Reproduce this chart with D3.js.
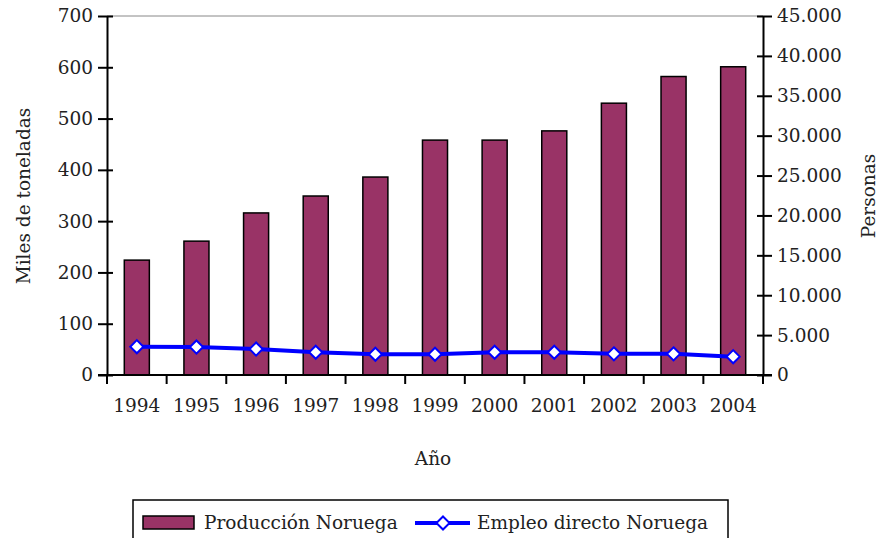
<!DOCTYPE html>
<html>
<head>
<meta charset="utf-8">
<script src="https://cdn.jsdelivr.net/npm/d3@7"></script>
</head>
<body style="margin:0">
<script>
// Chart values
const years = ["1994", "1995", "1996", "1997", "1998", "1999", "2000", "2001", "2002", "2003", "2004"];
const produccion = [224, 261, 316, 349, 386, 458, 458, 476, 530, 582, 601];
const empleo = [3550, 3500, 3250, 2850, 2600, 2600, 2850, 2850, 2650, 2650, 2300];
const leftTicks = [0, 100, 200, 300, 400, 500, 600, 700];
const rightTicks = [0, 5000, 10000, 15000, 20000, 25000, 30000, 35000, 40000, 45000];

const width = 879;
const height = 538;
const plot = { left: 107, right: 763, top: 16, bottom: 375 };
const fontSize = 18.5;

let svg = d3.select("body")
  .append("svg")
  .attr("width", width)
  .attr("height", height);

let x = d3.scaleBand()
  .domain(years)
  .range([plot.left, plot.right]);

let yLeft = d3.scaleLinear()
  .domain([0, 700])
  .range([plot.bottom, plot.top]);

let yRight = d3.scaleLinear()
  .domain([0, 45000])
  .range([plot.bottom, plot.top]);

const barColor = "#993366";
const lineColor = "#0000ff";
const fmt = d3.formatLocale({ decimal: ",", thousands: ".", grouping: [3], currency: ["", ""] }).format(",");

function styleText(sel) {
  sel.style("font-family", d => "\"DejaVu Serif\"")
    .attr("font-size", fontSize)
    .attr("fill", "#222");
}

// top border of plot area
svg.append("line")
  .attr("x1", plot.left).attr("x2", plot.right)
  .attr("y1", plot.top).attr("y2", plot.top)
  .attr("stroke", "#888").attr("stroke-width", 1);

// bars
let barWidth = x.bandwidth() * 0.42;
svg.selectAll("rect.bar")
  .data(years)
  .enter()
    .append("rect")
    .attr("class", "bar")
    .attr("x", (d) => x(d) + (x.bandwidth() - barWidth) / 2)
    .attr("y", (d, i) => yLeft(produccion[i]))
    .attr("width", barWidth)
    .attr("height", (d, i) => plot.bottom - yLeft(produccion[i]))
    .attr("fill", barColor)
    .attr("stroke", "#000")
    .attr("stroke-width", 1.5);

// left axis
let leftAxis = d3.axisLeft(yLeft).tickValues(leftTicks).tickSize(0).tickPadding(14);
let gl = svg.append("g")
  .attr("transform", `translate(${plot.left},0)`)
  .call(leftAxis);
gl.select(".domain").attr("stroke", "#000").attr("stroke-width", 2);
gl.selectAll(".tick text").call(styleText);
gl.selectAll(".tick").append("line")
  .attr("x1", -9).attr("x2", 6)
  .attr("stroke", "#000").attr("stroke-width", 2);

// right axis
let rightAxis = d3.axisRight(yRight).tickValues(rightTicks).tickFormat(fmt).tickSize(0).tickPadding(14);
let gr = svg.append("g")
  .attr("transform", `translate(${plot.right},0)`)
  .call(rightAxis);
gr.select(".domain").attr("stroke", "#000").attr("stroke-width", 2);
gr.selectAll(".tick text").call(styleText);
gr.selectAll(".tick").append("line")
  .attr("x1", -6).attr("x2", 9)
  .attr("stroke", "#000").attr("stroke-width", 2);

// bottom axis
let bottomAxis = d3.axisBottom(x).tickSize(0).tickPadding(24);
let gb = svg.append("g")
  .attr("transform", `translate(0,${plot.bottom})`)
  .call(bottomAxis);
gb.select(".domain").remove();
gb.append("line")
  .attr("x1", plot.left - 9).attr("x2", plot.right + 9)
  .attr("stroke", "#000").attr("stroke-width", 2);
gb.selectAll(".tick text").call(styleText);
// category separators
gb.selectAll("line.sep")
  .data(years.concat(["end"]))
  .enter()
    .append("line")
    .attr("class", "sep")
    .attr("x1", (d, i) => i < years.length ? x(d) : plot.right)
    .attr("x2", (d, i) => i < years.length ? x(d) : plot.right)
    .attr("y1", 0).attr("y2", 9)
    .attr("stroke", "#000").attr("stroke-width", 2);

// employment line
let line = d3.line()
  .x((d, i) => x(years[i]) + x.bandwidth() / 2)
  .y((d) => yRight(d));

svg.append("path")
  .datum(empleo)
  .attr("d", line)
  .attr("fill", "none")
  .attr("stroke", lineColor)
  .attr("stroke-width", 4);

let diamond = d3.symbol().type(d3.symbolDiamond2).size(110);
svg.selectAll("path.marker")
  .data(empleo)
  .enter()
    .append("path")
    .attr("class", "marker")
    .attr("d", diamond)
    .attr("transform", (d, i) => `translate(${x(years[i]) + x.bandwidth() / 2},${yRight(d)})`)
    .attr("fill", "#fff")
    .attr("stroke", lineColor)
    .attr("stroke-width", 2);

// axis titles
svg.append("text")
  .attr("transform", "translate(30,196) rotate(-90)")
  .attr("text-anchor", "middle")
  .call(styleText)
  .text("Miles de toneladas");

svg.append("text")
  .attr("transform", "translate(875,196) rotate(-90)")
  .attr("text-anchor", "middle")
  .call(styleText)
  .text("Personas");

svg.append("text")
  .attr("x", 433)
  .attr("y", 465)
  .attr("text-anchor", "middle")
  .call(styleText)
  .text("Año");

// legend
let legend = svg.append("g").attr("class", "legend");
legend.append("rect")
  .attr("x", 133).attr("y", 500)
  .attr("width", 595).attr("height", 50)
  .attr("fill", "#fff")
  .attr("stroke", "#000").attr("stroke-width", 1.5);
legend.append("rect")
  .attr("x", 143).attr("y", 516)
  .attr("width", 51).attr("height", 13)
  .attr("fill", barColor)
  .attr("stroke", "#000").attr("stroke-width", 1.5);
legend.append("text")
  .attr("x", 204).attr("y", 529)
  .call(styleText)
  .text("Producción Noruega");
legend.append("line")
  .attr("x1", 415).attr("x2", 470)
  .attr("y1", 523).attr("y2", 523)
  .attr("stroke", lineColor).attr("stroke-width", 4);
legend.append("path")
  .attr("d", diamond)
  .attr("transform", "translate(443,523)")
  .attr("fill", "#fff")
  .attr("stroke", lineColor)
  .attr("stroke-width", 2);
legend.append("text")
  .attr("x", 477).attr("y", 529)
  .call(styleText)
  .text("Empleo directo Noruega");
</script>
</body>
</html>
